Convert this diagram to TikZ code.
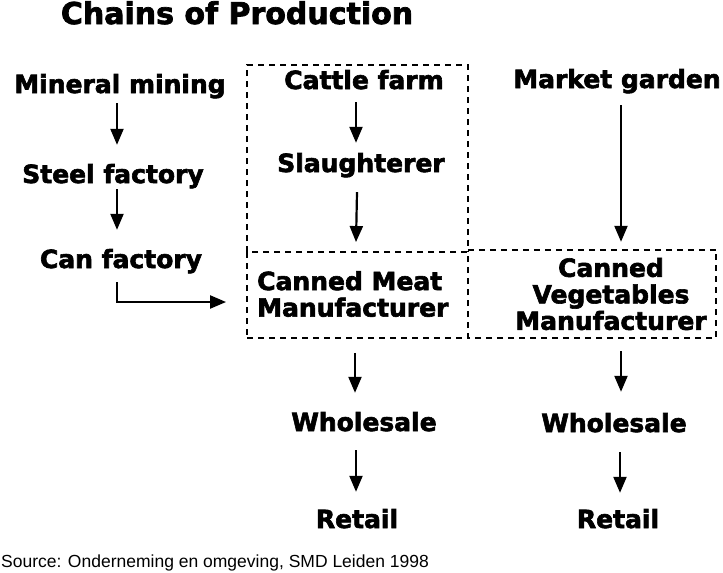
\documentclass[tikz,border=0pt]{standalone}
\usepackage{fontspec}
\setmainfont{DejaVu Sans}[BoldFeatures={FakeBold=2.4}]
\newfontfamily\srcfont{Liberation Sans}
\usetikzlibrary{arrows.meta}
\tikzset{
  lbl/.style={font=\fontsize{25}{26.5}\selectfont\bfseries, inner sep=0pt, text height=19pt, text depth=6pt, anchor=base},
  mlbl/.style={font=\fontsize{25}{26.5}\selectfont\bfseries, inner sep=0pt},
  arr/.style={line width=2.2pt, -{Triangle[length=16pt,width=13pt]}},
  dbox/.style={line width=1.9pt, dash pattern=on 6pt off 5pt},
  boxnode/.style={inner sep=0pt, draw=none}
}
\begin{document}
\begin{tikzpicture}[x=1pt,y=-1pt]
\useasboundingbox (0,0) rectangle (723,573);
% title
\node[font=\fontsize{30}{32}\selectfont\bfseries, inner sep=0pt, anchor=base] (title) at (237,24) {Chains of Production};
% left column
\node[lbl] (mm) at (120,93) {Mineral mining};
\node[lbl] (sf) at (113,183) {Steel factory};
\node[lbl] (cf) at (121,268) {Can factory};
% middle column
\node[lbl] (cattle) at (364,89) {Cattle farm};
\node[lbl] (sl) at (361,172) {Slaughterer};
% right column
\node[lbl] (mg) at (617,88) {Market garden};
% boxes
\draw[dbox] (247,252) -- (247,65) -- (468,65) -- (468,252);
\node[boxnode, draw, dbox, minimum width=221pt, minimum height=86pt] (cmbox) at (357.5,295) {};
\node[boxnode, minimum width=248pt, minimum height=88pt] (cvbox) at (592,294) {};
\draw[dbox] (cvbox.north west) -- (cvbox.north east) -- (cvbox.south east) -- (cvbox.south west);
\node[mlbl, align=left, anchor=west] (cmt) at (257,294) {Canned Meat\\Manufacturer};
\node[mlbl, align=center] (cvt) at (611,294) {Canned\\Vegetables\\Manufacturer};
% bottom
\node[lbl] (ws1) at (364,431) {Wholesale};
\node[lbl] (rt1) at (357,528) {Retail};
\node[lbl] (ws2) at (614,432) {Wholesale};
\node[lbl] (rt2) at (618,528) {Retail};
% source
\node[font=\fontsize{17.5}{20}\selectfont\srcfont, inner sep=0pt, anchor=base west] (src) at (1,567) {Source: Onderneming en omgeving, SMD Leiden 1998};
% arrows
\draw[arr] ([xshift=-3pt,yshift=-4pt]mm.south) -- ([xshift=4pt,yshift=19pt]sf.north);
\draw[arr] ([xshift=4pt]sf.south) -- ([xshift=-4pt,yshift=19pt]cf.north);
\draw[arr] ([xshift=-4pt,yshift=-8pt]cf.south) |- ([xshift=-20pt,yshift=-7pt]cmbox.west);
\draw[arr] ([xshift=-8pt,yshift=-7pt]cattle.south) -- ([xshift=-5pt,yshift=10pt]sl.north);
\draw[arr] ([xshift=-4pt,yshift=-14pt]sl.south) -- ([xshift=-1.5pt,yshift=9pt]cmbox.north);
\draw[arr] ([xshift=4pt,yshift=-11pt]mg.south) -- ([xshift=29pt,yshift=8pt]cvbox.north);
\draw[arr] ([xshift=-2.5pt,yshift=-14pt]cmbox.south) -- ([xshift=-9pt,yshift=19pt]ws1.north);
\draw[arr] ([xshift=-8pt,yshift=-13pt]ws1.south) -- ([xshift=-1pt,yshift=17pt]rt1.north);
\draw[arr] ([xshift=29pt,yshift=-13pt]cvbox.south) -- ([xshift=7pt,yshift=21pt]ws2.north);
\draw[arr] ([xshift=6pt,yshift=-14pt]ws2.south) -- ([xshift=2pt,yshift=16pt]rt2.north);
\end{tikzpicture}
\end{document}
